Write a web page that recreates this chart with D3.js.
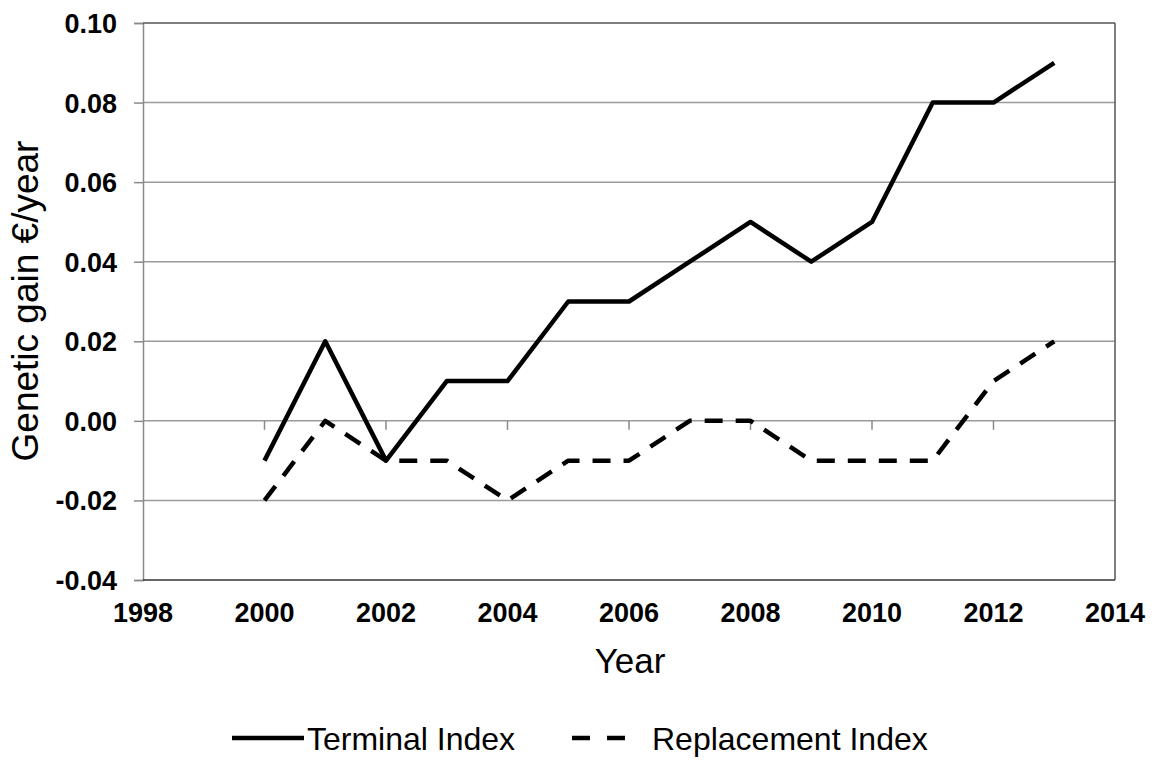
<!DOCTYPE html>
<html>
<head>
<meta charset="utf-8">
<script src="https://cdn.jsdelivr.net/npm/d3@7"></script>
<style>
  html, body { margin: 0; padding: 0; background: #fff; }
  svg { display: block; font-family: "Liberation Sans", Arial, sans-serif; }
</style>
</head>
<body>
<svg id="chart" width="1159" height="760"></svg>
<script>
const years = [2000, 2001, 2002, 2003, 2004, 2005, 2006, 2007, 2008, 2009, 2010, 2011, 2012, 2013];
const terminalIndex = [-0.01, 0.02, -0.01, 0.01, 0.01, 0.03, 0.03, 0.04, 0.05, 0.04, 0.05, 0.08, 0.08, 0.09];
const replacementIndex = [-0.02, 0.00, -0.01, -0.01, -0.02, -0.01, -0.01, 0.00, 0.00, -0.01, -0.01, -0.01, 0.01, 0.02];
const xTicks = [1998, 2000, 2002, 2004, 2006, 2008, 2010, 2012, 2014];
const yTicks = [-0.04, -0.02, 0.00, 0.02, 0.04, 0.06, 0.08, 0.10];
const seriesNames = ["Terminal Index", "Replacement Index"];
const xTitle = "Year";
const yTitle = "Genetic gain €/year";

const svg = d3.select("#chart");
const L = 143, R = 1115, T = 23, B = 580;
const x = d3.scaleLinear().domain([1998, 2014]).range([L, R]);
const y = d3.scaleLinear().domain([-0.04, 0.10]).range([B, T]);
const fmt = d => d3.format(".2f")(d).replace("\u2212", "-");

// gridlines
svg.append("g").selectAll("line").data(yTicks.filter(d => d > -0.04 && d < 0.10)).join("line")
  .attr("x1", L).attr("x2", R)
  .attr("y1", d => y(d)).attr("y2", d => y(d))
  .attr("stroke", "#9a9a9a").attr("stroke-width", 1.5);

// y axis
const yAxis = d3.axisLeft(y).tickValues(yTicks).tickFormat(fmt).tickSize(9).tickPadding(17);
const gy = svg.append("g").attr("transform", `translate(${L},0)`).call(yAxis);
gy.select(".domain").attr("stroke", "#8a8a8a").attr("stroke-width", 1.5);
gy.selectAll(".tick line").attr("stroke", "#8a8a8a").attr("stroke-width", 1.5);
gy.selectAll(".tick text").attr("font-size", 27).attr("font-weight", "bold").attr("fill", "#000")
  .attr("font-family", "Liberation Sans, Arial, sans-serif").attr("dy", "0.35em");

// x tick marks at zero line
svg.append("g").selectAll("line").data(xTicks.filter(d => d > 1998 && d < 2014)).join("line")
  .attr("x1", d => x(d)).attr("x2", d => x(d))
  .attr("y1", y(0)).attr("y2", y(0) + 9)
  .attr("stroke", "#8a8a8a").attr("stroke-width", 1.5);

// x tick labels at bottom
svg.append("g").selectAll("text").data(xTicks).join("text")
  .attr("x", d => x(d)).attr("y", 622)
  .attr("text-anchor", "middle").attr("font-size", 27).attr("font-weight", "bold")
  .text(d => d);

// plot border top / right / bottom
svg.append("line").attr("x1", L).attr("x2", R).attr("y1", T).attr("y2", T).attr("stroke", "#555").attr("stroke-width", 1.5);
svg.append("line").attr("x1", R).attr("x2", R).attr("y1", T).attr("y2", B).attr("stroke", "#555").attr("stroke-width", 1.5);
svg.append("line").attr("x1", L).attr("x2", R).attr("y1", B).attr("y2", B).attr("stroke", "#333").attr("stroke-width", 1.5);

// lines
const line = d3.line().x((d, i) => x(years[i])).y(d => y(d));
svg.append("path").datum(replacementIndex).attr("d", line)
  .attr("fill", "none").attr("stroke", "#000").attr("stroke-width", 4.5)
  .attr("stroke-dasharray", "18,13").attr("stroke-linejoin", "round");
svg.append("path").datum(terminalIndex).attr("d", line)
  .attr("fill", "none").attr("stroke", "#000").attr("stroke-width", 4.5)
  .attr("stroke-linejoin", "round");

// axis titles
svg.append("text").attr("x", 630).attr("y", 673).attr("text-anchor", "middle")
  .attr("font-size", 35).text(xTitle);
svg.append("text").attr("transform", "translate(38,301) rotate(-90)").attr("text-anchor", "middle")
  .attr("font-size", 37).text(yTitle);

// legend
const lg = svg.append("g");
lg.append("line").attr("x1", 232).attr("x2", 304).attr("y1", 738).attr("y2", 738)
  .attr("stroke", "#000").attr("stroke-width", 4.5);
lg.append("text").attr("x", 307).attr("y", 750).attr("font-size", 32).text(seriesNames[0]);
lg.append("line").attr("x1", 572).attr("x2", 625).attr("y1", 738).attr("y2", 738)
  .attr("stroke", "#000").attr("stroke-width", 4.5).attr("stroke-dasharray", "18,17");
lg.append("text").attr("x", 652).attr("y", 750).attr("font-size", 32).text(seriesNames[1]);
</script>
</body>
</html>
